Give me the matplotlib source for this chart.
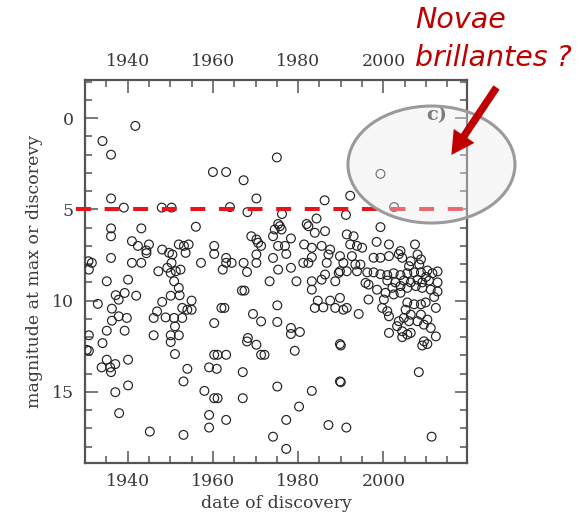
import numpy as np
import matplotlib
matplotlib.use("Agg")
import matplotlib.pyplot as plt
from matplotlib.patches import Ellipse, FancyArrowPatch
from matplotlib.ticker import MultipleLocator

# novae discovered 1930-1958 (year, magnitude at max or discovery)
year_early = [1934.1, 1936.1, 1941.8, 1936.1, 1939.1, 1948.0, 1950.3, 1936.1, 1936.1, 1943.2,
              1956.0, 1941.0, 1942.4, 1945.0, 1944.4, 1944.4, 1948.1, 1949.7, 1950.5, 1952.0,
              1953.2, 1954.3, 1953.6, 1957.2, 1936.1, 1931.6, 1930.9, 1930.8, 1941.0, 1943.2,
              1947.2, 1949.3, 1950.3, 1950.1, 1951.3, 1952.4, 1950.9, 1952.0, 1935.1, 1940.1,
              1939.3, 1937.2, 1937.9, 1942.0, 1933.0, 1936.3, 1950.1, 1948.1, 1952.2, 1952.8,
              1954.0, 1955.0, 1955.0, 1946.9, 1948.9, 1946.1, 1950.9, 1952.8, 1937.9, 1936.3,
              1939.8, 1939.3, 1935.1, 1946.1, 1950.1, 1952.0, 1951.1, 1930.9, 1934.1, 1930.9,
              1935.1, 1937.1, 1933.9, 1935.9, 1936.1, 1940.1, 1950.1, 1951.1, 1954.0, 1953.1,
              1940.1, 1937.1, 1938.0, 1945.2, 1953.1, 1930.4]
mag_early = [1.25, 2.0, 0.42, 4.4, 4.9, 4.9, 4.9, 6.04, 6.47, 6.04,
             5.95, 6.74, 7.0, 6.92, 7.25, 7.4, 7.2, 7.38, 7.47, 6.92,
             7.0, 6.92, 7.38, 7.93, 7.66, 7.93, 8.3, 7.84, 7.93, 7.93,
             8.39, 8.2, 7.93, 8.48, 8.39, 8.3, 8.94, 9.3, 8.94, 8.85,
             9.58, 9.7, 9.95, 9.73, 10.18, 10.44, 9.73, 10.07, 9.71, 10.4,
             10.5, 10.0, 10.5, 10.59, 10.92, 10.95, 10.95, 10.95, 10.86, 11.1,
             10.95, 11.65, 11.65, 11.9, 11.9, 11.9, 11.41, 11.9, 12.33, 12.75,
             13.24, 13.48, 13.66, 13.66, 13.92, 13.24, 12.27, 12.93, 13.74, 14.43,
             14.65, 15.02, 16.17, 17.18, 17.36, 12.7]

# novae discovered 1958-1989
year_mid = [1975.0, 1960.0, 1963.1, 1967.2, 1970.2, 1964.0, 1968.1, 1976.2, 1984.3, 1986.2,
            1982.4, 1975.7, 1976.1, 1974.5, 1974.1, 1969.0, 1970.2, 1970.6, 1971.3, 1983.9,
            1986.3, 1978.3, 1975.3, 1976.9, 1977.2, 1981.4, 1983.2, 1985.5, 1987.5, 1987.1,
            1983.2, 1981.2, 1982.4, 1986.7, 1960.3, 1960.3, 1963.1, 1963.1, 1964.4, 1962.3,
            1967.2, 1968.0, 1970.2, 1970.2, 1974.1, 1975.3, 1978.3, 1973.3, 1979.6, 1983.2,
            1983.2, 1985.5, 1986.3, 1988.7, 1989.5, 1967.4, 1966.8, 1962.7, 1962.0, 1969.4,
            1975.1, 1984.6, 1983.9, 1985.9, 1987.5, 1988.7, 1960.3, 1971.3, 1975.1, 1978.3,
            1980.4, 1978.3, 1968.2, 1968.0, 1970.2, 1961.1, 1963.1, 1971.3, 1972.1, 1979.2,
            1960.9, 1967.0, 1989.8, 1989.8, 1975.1, 1983.2, 1958.0, 1960.3, 1961.1, 1967.0,
            1980.2, 1959.1, 1963.1, 1977.2, 1987.1, 1974.1, 1977.2, 1959.1, 1959.1, 1960.3,
            1975.3, 1982.0]
mag_mid = [2.15, 2.95, 2.95, 3.4, 4.4, 4.87, 5.15, 5.25, 5.5, 4.5,
           5.92, 5.92, 6.1, 6.1, 6.47, 6.47, 6.65, 6.83, 7.0, 6.28,
           6.19, 6.59, 7.0, 7.0, 7.44, 6.92, 7.1, 7.0, 7.2, 7.47,
           7.62, 7.93, 7.93, 7.93, 7.0, 7.44, 7.66, 7.93, 7.93, 8.3,
           7.93, 8.43, 7.47, 7.93, 7.66, 8.3, 8.2, 8.94, 8.94, 8.94,
           9.4, 8.85, 8.57, 8.94, 8.48, 9.45, 9.45, 10.4, 10.4, 10.73,
           10.26, 10.0, 10.4, 10.37, 10.0, 10.4, 11.23, 11.14, 11.17, 11.5,
           11.72, 11.83, 12.05, 12.24, 12.42, 12.97, 12.97, 12.97, 12.97, 12.75,
           13.74, 13.92, 12.38, 14.43, 14.71, 14.95, 14.95, 15.35, 15.35, 15.35,
           15.81, 16.27, 16.54, 16.54, 16.82, 17.46, 18.13, 16.96, 13.66, 12.97,
           5.8, 5.8]

# novae discovered 1989-2015
year_recent = [1999.3, 1992.2, 2002.5, 1991.2, 1999.3, 1991.4, 1993.0, 1998.4, 2001.3, 2007.4,
               1992.2, 1993.8, 1995.0, 1989.8, 1992.6, 2004.0, 2004.4, 1997.7, 1999.3, 2001.3,
               2008.0, 2008.8, 2008.4, 2006.4, 2006.0, 1990.6, 1993.4, 1994.6, 1989.8, 1991.4,
               1993.8, 1996.2, 1997.7, 1999.3, 2000.9, 2002.4, 2004.0, 2005.6, 2007.2, 2008.8,
               2010.3, 2011.5, 2012.7, 2000.9, 2002.8, 2004.8, 2006.4, 2008.0, 2009.1, 2010.7,
               2012.7, 2002.1, 2004.0, 2005.6, 2007.6, 2009.1, 2011.1, 2012.7, 1995.8, 1996.5,
               1998.5, 1996.5, 2000.5, 2002.4, 2004.0, 2000.1, 2005.6, 2007.2, 2008.8, 2009.9,
               2012.3, 1999.7, 2000.9, 2001.3, 2005.2, 2006.4, 2008.8, 2010.3, 2008.0, 2009.5,
               2011.1, 2003.6, 2004.8, 2006.0, 2003.2, 2004.4, 2005.6, 2006.4, 2001.3, 2012.3,
               2009.5, 2009.1, 2010.3, 2004.4, 1989.8, 1991.4, 1990.6, 1994.2, 1990.0, 1990.0,
               1991.3, 2008.3, 2011.3, 2003.6, 2010.0, 2011.9]
mag_recent = [3.05, 4.25, 4.87, 5.3, 5.97, 6.37, 6.47, 6.78, 6.92, 6.92,
              6.92, 7.0, 7.1, 7.56, 7.56, 7.28, 7.65, 7.65, 7.65, 7.56,
              7.47, 7.74, 8.02, 7.84, 8.11, 7.93, 8.02, 8.02, 8.39, 8.39,
              8.39, 8.45, 8.45, 8.55, 8.6, 8.5, 8.6, 8.5, 8.45, 8.45,
              8.35, 8.5, 8.4, 8.9, 9.0, 8.9, 9.0, 8.85, 9.0, 8.9,
              9.0, 9.3, 9.2, 9.3, 9.2, 9.3, 9.4, 9.5, 9.03, 9.12,
              9.4, 9.94, 9.57, 9.66, 9.57, 9.94, 10.1, 10.2, 10.2, 10.1,
              10.4, 10.4, 10.58, 10.86, 10.5, 10.77, 10.77, 11.04, 11.13, 11.32,
              11.5, 11.13, 10.95, 11.13, 11.4, 11.68, 11.86, 11.77, 11.77, 11.96,
              12.23, 12.46, 12.38, 12.0, 9.85, 10.4, 10.5, 10.73, 12.46, 14.47,
              16.96, 13.92, 17.46, 7.45, 8.7, 9.8]

bright_limit = 5.0

years = np.concatenate([year_early, year_mid, year_recent])
mags = np.concatenate([mag_early, mag_mid, mag_recent])

plt.rcParams['font.family'] = 'DejaVu Serif'
axis_grey = '#555555'
text_grey = '#3a3a3a'

fig = plt.figure(figsize=(5.88, 5.19), dpi=100)
ax = fig.add_axes([0.1446, 0.108, 0.6496, 0.738])

ax.scatter(years, mags, s=40, facecolors='none', edgecolors='#222222', linewidths=0.85, zorder=3)

ax.set_xlim(1930, 2019.6)
ax.set_ylim(18.9, -2.1)
ax.xaxis.set_major_locator(MultipleLocator(20))
ax.xaxis.set_minor_locator(MultipleLocator(5))
ax.yaxis.set_major_locator(MultipleLocator(5))
ax.yaxis.set_minor_locator(MultipleLocator(1))
ax.tick_params(which='both', direction='in', top=True, right=True, labeltop=True,
               colors=axis_grey, labelcolor=text_grey, labelsize=12.5, width=1.1)
ax.tick_params(which='major', length=9)
ax.tick_params(which='minor', length=5)
ax.tick_params(axis='x', which='major', pad=7)
ax.tick_params(axis='y', which='major', pad=8)
for sp in ax.spines.values():
    sp.set_color(axis_grey)
    sp.set_linewidth(1.6)

ax.set_xlabel('date of discovery', fontsize=12.5, color=text_grey, labelpad=4)
ax.set_ylabel('magnitude at max or discorevy', fontsize=12.5, color=text_grey, labelpad=6)

ax.text(0.948, 0.909, 'c)', transform=ax.transAxes, ha='right', va='center',
        fontsize=14, fontweight='bold', color='#333333', zorder=4)

# bright limit line, runs a little past the left spine
ax.plot([1927.9, 2019.6], [bright_limit, bright_limit], color='#e8141c', lw=2.9,
        dashes=(3.7, 3.4), clip_on=False, zorder=5)

# highlight ellipse over the bright corner
ell = Ellipse((0.7338, 0.683), 0.284, 0.2254, transform=fig.transFigure,
              facecolor=(0.93, 0.93, 0.93, 0.4), edgecolor='#9a9a9a', lw=2.2, zorder=10)
fig.add_artist(ell)

arrow = FancyArrowPatch((0.847, 0.836), (0.765, 0.697), transform=fig.transFigure,
                        arrowstyle='simple,head_length=0.55,head_width=0.6,tail_width=0.18',
                        mutation_scale=30, color='#c00000', lw=0, zorder=11)
fig.add_artist(arrow)

fig.text(0.706, 1 - 28 / 519, 'Novae', fontsize=20.5, fontstyle='italic',
         family='DejaVu Sans', color='#c00000', va='baseline', ha='left')
fig.text(0.706, 1 - 66 / 519, 'brillantes ?', fontsize=20.5, fontstyle='italic',
         family='DejaVu Sans', color='#c00000', va='baseline', ha='left')

fig.savefig('out.png', dpi=100)
